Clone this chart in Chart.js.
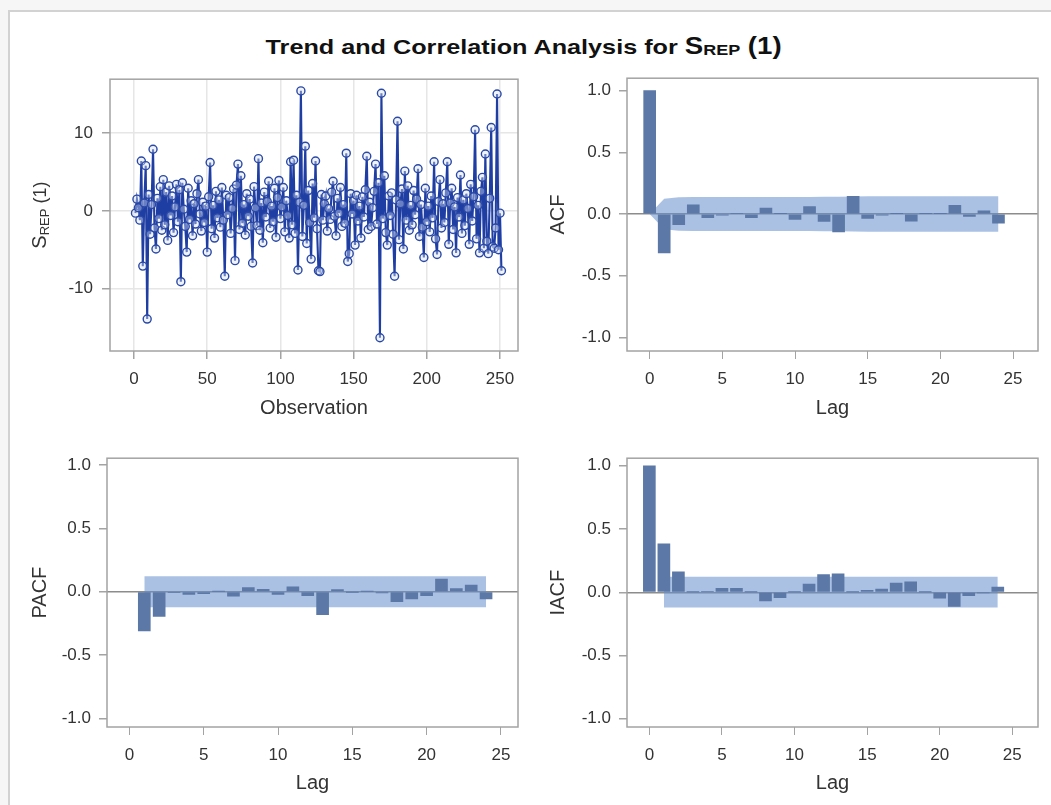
<!DOCTYPE html>
<html>
<head>
<meta charset="utf-8">
<script src="https://cdn.jsdelivr.net/npm/chart.js@4.4.1/dist/chart.umd.min.js"></script>
<style>
  html, body { margin: 0; padding: 0; }
  body { width: 1051px; height: 805px; overflow: hidden; background: #f6f6f6; position: relative;
         font-family: "Liberation Sans", Arial, sans-serif; }
  #panel { position: absolute; left: 8px; top: 10px; width: 1043px; height: 795px; background: #fff;
           border-top: 2px solid #d2d2d2; border-left: 2px solid #d2d2d2; }
  #title { position: absolute; left: 0; width: 1047px; top: 33px; text-align: center; font-weight: bold;
           font-size: 21px; color: #111; white-space: nowrap; transform: scaleX(1.2); transform-origin: 523px 0; }
  #title .big { font-size: 23px; }
  #title .sub { font-size: 15px; position: relative; top: 1px; }
  .box { position: absolute; }
</style>
</head>
<body>
<div id="panel"></div>
<div id="title">Trend and Correlation Analysis for <span class="big">S</span><span class="sub">REP</span><span class="big"> (1)</span></div>
<div class="box" style="left:10px;top:60px;width:520px;height:360px"><canvas id="series"></canvas></div>
<div class="box" style="left:530px;top:60px;width:520px;height:360px"><canvas id="acf"></canvas></div>
<div class="box" style="left:10px;top:440px;width:520px;height:355px"><canvas id="pacf"></canvas></div>
<div class="box" style="left:530px;top:440px;width:520px;height:355px"><canvas id="iacf"></canvas></div>
<script>
// differenced series S_REP(1), observations 1..251
var obsValues = [
  -0.3, 1.5, 0.4, -1.2, 6.4, -7.1, 1.0, 5.8, -13.9, 2.1,
  -3.0, 0.8, 7.9, -2.2, -4.9, 1.6, -1.0, 3.1, -2.5, 4.0,
  -1.8, 2.4, -3.8, 3.2, -0.6, 1.9, -2.8, 0.5, 3.4, -1.4,
  2.7, -9.1, 3.6, 0.2, -2.0, -5.3, 2.9, -1.1, 1.3, -3.2,
  0.9, -1.7, 2.2, 4.0, -0.4, -2.6, 1.1, -1.5, 0.6, -5.3,
  1.8, 6.2, -2.3, 0.7, -3.5, 2.5, -0.9, 1.4, -2.1, 3.0,
  -1.2, -8.4, 2.0, -0.5, 1.7, -2.9, 0.3, 2.8, -6.4, 3.3,
  6.0, -2.4, 4.5, -1.6, 0.8, -3.1, 2.2, -0.7, 1.5, -2.0,
  -6.7, 3.1, 0.4, -1.9, 6.7, -2.5, 1.0, -4.1, 2.4, -0.8,
  1.2, 3.8, -2.2, 0.6, -1.4, 2.9, -3.4, 1.7, 3.9, -1.0,
  0.5, 3.0, -2.7, 1.3, -0.6, -3.5, 6.3, -1.8, 6.5, -2.9,
  2.0, -7.6, 1.1, 15.4, -3.3, 0.7, 8.3, -4.2, 2.6, -1.5,
  -6.2, 3.5, -0.9, 6.4, -2.3, -7.7, -7.8, 2.1, -1.2, 0.9,
  1.9, -2.6, 0.3, -1.1, 2.4, 3.8, -0.7, -3.2, 1.6, -0.3,
  3.0, -2.0, 0.8, -1.6, 7.4, -6.5, -5.5, 2.2, -0.4, 1.3,
  -4.4, 2.0, -1.3, 0.6, -3.5, 1.8, -0.8, 2.7, 7.0, -2.4,
  1.1, -2.0, 0.4, 2.5, 6.0, -1.7, 3.6, -16.3, 15.1, -1.0,
  4.5, -2.8, -4.4, 1.9, -0.6, 2.3, -3.0, -8.4, 1.4, 11.5,
  -3.7, 0.9, 2.8, -4.9, 5.1, -1.2, 3.2, -2.5, 0.7, -1.8,
  2.6, -0.5, 1.5, 5.4, -3.3, 0.8, -2.1, -6.0, 2.9, -1.4,
  0.6, -2.7, 1.9, -0.9, 6.3, -3.6, -5.6, 1.2, 4.0, -2.2,
  0.9, -1.5, 2.3, 6.3, -4.3, 1.0, 2.9, -2.4, 0.5, -5.4,
  1.7, -0.8, 4.6, -2.9, 1.4, -1.9, 2.2, 0.3, -4.3, 3.4,
  -1.3, 1.8, 10.4, -3.6, 0.7, -5.4, 2.5, 4.3, -4.8, 7.3,
  -3.9, -5.5, 1.6, 10.7, -4.6, -4.8, -2.2, 15.0, -5.0, -0.3, -7.7
];
var obsTicks = [0, 50, 100, 150, 200, 250];
var seriesYTicks = [-10, 0, 10];

var lagTicks = [0, 5, 10, 15, 20, 25];
var corrYTicks = [-1, -0.5, 0, 0.5, 1];
var corrYLabels = ['-1.0', '-0.5', '0.0', '0.5', '1.0'];

var acfLags = [0,1,2,3,4,5,6,7,8,9,10,11,12,13,14,15,16,17,18,19,20,21,22,23,24];
var acfValues = [1.0, -0.315, -0.086, 0.075, -0.03, -0.01, 0.005, -0.03, 0.048, 0.003, -0.045, 0.06, -0.06,
                 -0.145, 0.142, -0.035, -0.01, 0.002, -0.058, 0.002, 0.003, 0.07, -0.02, 0.025, -0.075];
var acfBandHi = [0, 0.124, 0.136, 0.137, 0.137, 0.137, 0.137, 0.137, 0.137, 0.138, 0.138, 0.138, 0.139,
                 0.140, 0.142, 0.143, 0.143, 0.143, 0.143, 0.143, 0.143, 0.144, 0.144, 0.144, 0.144];
var acfBandLo = [0, -0.124, -0.136, -0.137, -0.137, -0.137, -0.137, -0.137, -0.137, -0.138, -0.138, -0.138, -0.139,
                 -0.140, -0.142, -0.143, -0.143, -0.143, -0.143, -0.143, -0.143, -0.144, -0.144, -0.144, -0.144];

var pacfLags = [1,2,3,4,5,6,7,8,9,10,11,12,13,14,15,16,17,18,19,20,21,22,23,24];
var pacfValues = [-0.31, -0.195, -0.005, -0.02, -0.015, 0.003, -0.035, 0.034, 0.02, -0.02, 0.04, -0.03,
                  -0.18, 0.018, -0.003, 0.002, -0.01, -0.078, -0.057, -0.03, 0.1, 0.026, 0.052, -0.057];
var pacfBandLags = [1, 24];
var pacfBandHi = [0.123, 0.123];
var pacfBandLo = [-0.123, -0.123];

var iacfLags = [0,1,2,3,4,5,6,7,8,9,10,11,12,13,14,15,16,17,18,19,20,21,22,23,24];
var iacfValues = [1.0, 0.383, 0.161, 0.003, 0.005, 0.031, 0.031, 0.002, -0.068, -0.042, 0.002, 0.065, 0.14,
                  0.146, 0.003, 0.016, 0.026, 0.073, 0.083, 0.002, -0.047, -0.112, -0.026, -0.005, 0.042];
var iacfBandLags = [1, 24];
var iacfBandHi = [0.123, 0.123];
var iacfBandLo = [-0.121, -0.121];

Chart.defaults.font.family = '"Liberation Sans", Arial, sans-serif';
Chart.defaults.color = '#333';
Chart.defaults.animation = false;

var frameColor = '#a3a3a3';

var framePlugin = {
  id: 'frame',
  afterDatasetsDraw: function(chart){
    var a = chart.chartArea, c = chart.ctx;
    c.save();
    c.strokeStyle = frameColor;
    c.lineWidth = 1.5;
    c.strokeRect(a.left, a.top, a.right - a.left, a.bottom - a.top);
    c.restore();
  }
};

// y title with subscript for the series panel
var seriesTitlePlugin = {
  id: 'seriesTitle',
  afterDraw: function(chart){
    var c = chart.ctx, a = chart.chartArea;
    var parts = [['S', 20, 0], ['REP', 13, 3], [' (1)', 18, 0]];
    c.save();
    c.translate(36, (a.top + a.bottom) / 2);
    c.rotate(-Math.PI / 2);
    c.fillStyle = '#333';
    c.textBaseline = 'alphabetic';
    var w = 0;
    parts.forEach(function(p){ c.font = p[1] + 'px "Liberation Sans", Arial, sans-serif'; w += c.measureText(p[0]).width; });
    var x = -w / 2;
    parts.forEach(function(p){
      c.font = p[1] + 'px "Liberation Sans", Arial, sans-serif';
      c.fillText(p[0], x, p[2]);
      x += c.measureText(p[0]).width;
    });
    c.restore();
  }
};

function fixTicks(list){
  return function(scale){ scale.ticks = list.map(function(v){ return {value: v}; }); };
}

function pairs(xs, ys){
  return xs.map(function(x, i){ return {x: x, y: ys[i]}; });
}

new Chart(document.getElementById('series'), {
  type: 'line',
  data: {
    datasets: [{
      data: obsValues.map(function(v, i){ return {x: i + 1, y: v}; }),
      borderColor: '#1f3ea3',
      borderWidth: 2.1,
      pointRadius: 4,
      pointBorderWidth: 1.4,
      pointBorderColor: '#2a48a6',
      pointBackgroundColor: 'rgba(215,225,244,0.4)',
      tension: 0
    }]
  },
  options: {
    responsive: true,
    maintainAspectRatio: false,
    layout: {padding: {top: 16, right: 12, left: 0, bottom: 0}},
    plugins: {legend: {display: false}, tooltip: {enabled: false}},
    scales: {
      x: {
        type: 'linear', min: -16.4, max: 262.3, offset: false,
        afterBuildTicks: fixTicks(obsTicks),
        afterFit: function(s){ s.height = 69; },
        grid: {color: '#e6e6e6', lineWidth: 1.5, tickColor: frameColor, tickLength: 8},
        border: {display: false},
        ticks: {font: {size: 17}, padding: 10, autoSkip: false, maxRotation: 0},
        title: {display: true, text: 'Observation', font: {size: 20}, padding: 0}
      },
      y: {
        min: -18, max: 16.9,
        afterBuildTicks: fixTicks(seriesYTicks),
        afterFit: function(s){ s.width = 100; },
        grid: {color: '#e6e6e6', lineWidth: 1.5, tickColor: frameColor, tickLength: 8},
        border: {display: false},
        ticks: {font: {size: 17}, padding: 9}
      }
    }
  },
  plugins: [framePlugin, seriesTitlePlugin]
});

function corrChart(id, title, lags, values, bandLags, bandHi, bandLo, xMin, xMax, yMin, yMax, xAxisH, titlePad){
  return new Chart(document.getElementById(id), {
    type: 'bar',
    data: {
      datasets: [
        {type: 'bar', data: pairs(lags, values), backgroundColor: '#5b78a6', barThickness: 12, grouped: false, order: 1},
        {type: 'line', data: pairs(bandLags, bandHi), borderWidth: 0, pointRadius: 0, fill: '+1',
         backgroundColor: 'rgba(100,142,204,0.55)', borderColor: 'rgba(0,0,0,0)', order: 2},
        {type: 'line', data: pairs(bandLags, bandLo), borderWidth: 0, pointRadius: 0, fill: false,
         borderColor: 'rgba(0,0,0,0)', order: 3}
      ]
    },
    options: {
      responsive: true,
      maintainAspectRatio: false,
      layout: {padding: {top: 15, right: 12, left: 0, bottom: 0}},
      plugins: {legend: {display: false}, tooltip: {enabled: false}},
      scales: {
        x: {
          type: 'linear', min: xMin, max: xMax, offset: false,
          afterBuildTicks: fixTicks(lagTicks),
          afterFit: function(s){ s.height = xAxisH; },
          grid: {drawOnChartArea: false, offset: false, tickColor: frameColor, tickLength: 8},
          border: {display: false},
          ticks: {font: {size: 17}, padding: 10, autoSkip: false, maxRotation: 0},
          title: {display: true, text: 'Lag', font: {size: 20}, padding: 0}
        },
        y: {
          min: yMin, max: yMax, beginAtZero: false,
          afterBuildTicks: fixTicks(corrYTicks),
          afterFit: function(s){ s.width = 97; },
          grid: {
            color: function(c){ return c.tick && c.tick.value === 0 ? '#8c8c8c' : 'rgba(0,0,0,0)'; },
            lineWidth: 1.5, tickColor: frameColor, tickLength: 8
          },
          border: {display: false},
          ticks: {font: {size: 17}, padding: 8, callback: function(v, i){ return corrYLabels[i]; }},
          title: {display: true, text: title, font: {size: 20}, padding: {top: titlePad, bottom: 0}}
        }
      }
    },
    plugins: [framePlugin]
  });
}

corrChart('acf', 'ACF', acfLags, acfValues, acfLags, acfBandHi, acfBandLo, -1.56, 26.72, -1.11, 1.10, 69, 16);
corrChart('pacf', 'PACF', pacfLags, pacfValues, pacfBandLags, pacfBandHi, pacfBandLo, -1.51, 26.15, -1.068, 1.055, 68, 18);
corrChart('iacf', 'IACF', iacfLags, iacfValues, iacfBandLags, iacfBandHi, iacfBandLo, -1.54, 26.77, -1.065, 1.06, 68, 16);
</script>
</body>
</html>
